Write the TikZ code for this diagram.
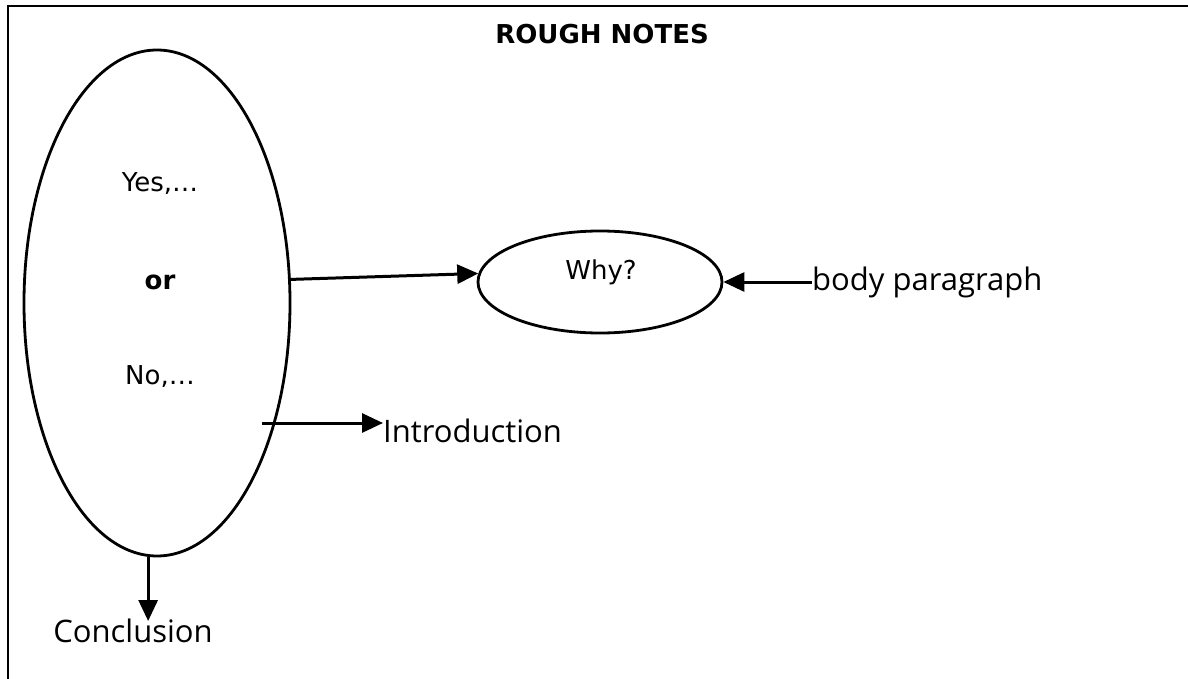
\documentclass[tikz,border=0pt]{standalone}
\usepackage{fontspec}
\setmainfont{DejaVu Sans}
\newfontfamily\comicfont{Open Sans}
\usetikzlibrary{shapes.geometric,arrows.meta}
\begin{document}
\begin{tikzpicture}[x=1pt,y=-1pt,
  frameline/.style={line width=2.6pt},
  oval/.style={ellipse,draw,line width=2.8pt,inner sep=0pt},
  arr/.style={line width=3pt,-{Triangle[length=21pt,width=19pt]}},
  vtext/.style={font=\fontsize{26}{30}\selectfont,inner sep=0pt},
  ctext/.style={font=\comicfont\fontsize{31}{36}\selectfont,inner sep=0pt}]
\useasboundingbox (0,0) rectangle (1188,679);
% frame (only top and left edges visible)
\draw[frameline] (8,679) -- (8,6) -- (1188,6);
% title
\node[font=\bfseries\fontsize{26}{30}\selectfont,inner sep=0pt] (title) at (602,34) {ROUGH NOTES};
% big ellipse
\node[oval,minimum width=266pt,minimum height=506pt] (big) at (157,303) {};
\node[vtext] (yes) at (160,184) {Yes,\dots};
\node[vtext,font=\bfseries\fontsize{26}{30}\selectfont] (or) at (160,282) {or};
\node[vtext] (no) at (160,377) {No,\dots};
% why ellipse
\node[oval,minimum width=244pt,minimum height=102pt] (why) at (600,282) {};
\node[vtext] (whyt) at (601,272) {Why?};
% labels
\node[ctext,anchor=west] (body) at (812,282) {body paragraph};
\node[ctext,anchor=west] (intro) at (383,431) {Introduction};
\node[ctext,anchor=north] (concl) at (133,619) {Conclusion};
% connectors
\draw[arr] (big.10) -- (why.176);
\draw[arr] (body.west) -- (why.east);
\coordinate (istart) at (262,423);
\draw[arr] (istart) -- (intro.west |- istart);
\draw[arr] (big.268) -- (big.268 |- 0,621);
\end{tikzpicture}
\end{document}
